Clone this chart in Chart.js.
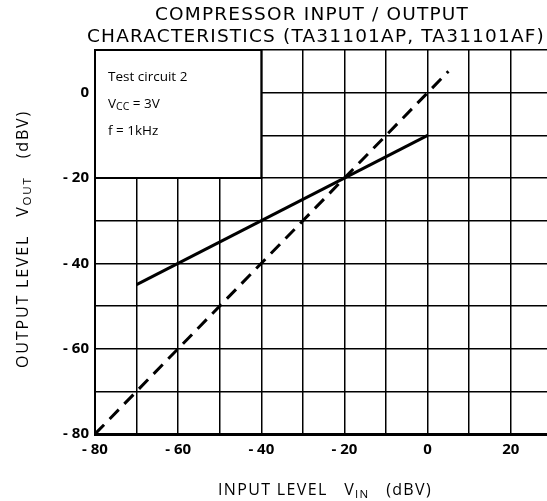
<!DOCTYPE html>
<html lang="en">
<head>
    <meta charset="UTF-8">
    <title>Compressor Input/Output Characteristics</title>
    <script src="https://cdn.jsdelivr.net/npm/chart.js"></script>
    <style>
        html, body {
            margin: 0;
            padding: 0;
            background: #fff;
        }
        .wrap {
            width: 547px;
            height: 501px;
            position: relative;
        }
    </style>
</head>
<body>
    <div class="wrap">
        <canvas id="ioChart"></canvas>
    </div>

    <script>
        // Data
        const compIn = [-70, 0];
        const compOut = [-45, -10];
        const refIn = [-80, 5];
        const refOut = [-80, 5];

        const xGrid = [-80, -70, -60, -50, -40, -30, -20, -10, 0, 10, 20];
        const yGrid = [-80, -70, -60, -50, -40, -30, -20, -10, 0, 10];
        const xTickLabels = { '-80': '- 80', '-60': '- 60', '-40': '- 40', '-20': '- 20', '0': '0', '20': '20' };
        const yTickLabels = { '-80': '- 80', '-60': '- 60', '-40': '- 40', '-20': '- 20', '0': '0' };

        const titleLines = ['COMPRESSOR INPUT / OUTPUT', 'CHARACTERISTICS (TA31101AP, TA31101AF)'];
        const FONT = '"Open Sans", "DejaVu Sans", sans-serif';
        const TFONT = '"DejaVu Sans", sans-serif';

        // width of a run of text with subscripts
        function richWidth(ctx, parts, size, fam) {
            let total = 0, n = 0;
            parts.forEach(p => {
                ctx.font = (p.sub ? size * 0.72 : size) + 'px ' + fam;
                p.w = ctx.measureText(p.t).width;
                total += p.w;
                n += p.t.length;
            });
            return { total, n };
        }

        // draw text with subscripts at a fixed size, letter-spaced out to a width, centred at cx
        function drawRich(ctx, parts, cx, cy, size, width, fam) {
            ctx.letterSpacing = '0px';
            const m = richWidth(ctx, parts, size, fam);
            const sp = Math.max(0, (width - m.total) / m.n);
            ctx.letterSpacing = sp + 'px';
            const m2 = richWidth(ctx, parts, size, fam);
            let x = cx - m2.total / 2;
            ctx.textAlign = 'left';
            ctx.textBaseline = 'middle';
            parts.forEach(p => {
                ctx.font = (p.sub ? size * 0.72 : size) + 'px ' + fam;
                ctx.fillText(p.t, x, p.sub ? cy + size * 0.3 : cy);
                x += p.w;
            });
            ctx.letterSpacing = '0px';
        }

        const noteBox = {
            id: 'noteBox',
            beforeDatasetsDraw(chart) {
                const { ctx, scales: { x, y } } = chart;
                const l = x.getPixelForValue(-80), r = x.getPixelForValue(-40);
                const t = y.getPixelForValue(10), b = y.getPixelForValue(-20);
                ctx.save();
                ctx.fillStyle = '#fff';
                ctx.fillRect(l, t, r - l, b - t);
                ctx.strokeStyle = '#000';
                ctx.lineWidth = 2;
                ctx.strokeRect(l, t, r - l, b - t);
                ctx.fillStyle = '#000';
                ctx.textAlign = 'left';
                ctx.textBaseline = 'middle';
                ctx.font = '13.5px ' + FONT;
                ctx.fillText('Test circuit 2', l + 13, t + 27);
                ctx.fillText('V', l + 13, t + 54);
                let w = ctx.measureText('V').width;
                ctx.font = '10.5px ' + FONT;
                ctx.fillText('CC', l + 13 + w, t + 57);
                let w2 = ctx.measureText('CC').width;
                ctx.font = '13.5px ' + FONT;
                ctx.fillText(' = 3V', l + 13 + w + w2, t + 54);
                ctx.fillText('f = 1kHz', l + 13, t + 81);
                ctx.restore();
            }
        };

        const labels = {
            id: 'labels',
            afterDraw(chart) {
                const { ctx } = chart;
                ctx.save();
                ctx.fillStyle = '#000';
                ctx.textAlign = 'center';
                ctx.textBaseline = 'middle';
                ctx.font = '18.5px ' + TFONT;
                ctx.letterSpacing = '0px';
                const w0 = ctx.measureText(titleLines[1]).width;
                ctx.letterSpacing = Math.max(0, (458 - w0) / titleLines[1].length) + 'px';
                ctx.fillText(titleLines[0], 312, 15);
                ctx.fillText(titleLines[1], 316, 37);
                ctx.letterSpacing = '0px';

                drawRich(ctx, [{ t: 'INPUT LEVEL   V' }, { t: 'IN', sub: true }, { t: '   (dBV)' }], 325, 490, 16, 214, FONT);

                ctx.translate(23, 239);
                ctx.rotate(-Math.PI / 2);
                drawRich(ctx, [{ t: 'OUTPUT LEVEL   V' }, { t: 'OUT', sub: true }, { t: '   (dBV)' }], 0, 0, 16, 258, FONT);
                ctx.restore();
            }
        };

        new Chart(document.getElementById('ioChart'), {
            type: 'scatter',
            data: {
                datasets: [
                    {
                        label: 'Compressor',
                        data: compIn.map((v, i) => ({ x: v, y: compOut[i] })),
                        showLine: true,
                        borderColor: '#000',
                        borderWidth: 3,
                        pointRadius: 0
                    },
                    {
                        label: 'Unity',
                        data: refIn.map((v, i) => ({ x: v, y: refOut[i] })),
                        showLine: true,
                        borderColor: '#000',
                        borderWidth: 3,
                        borderDash: [13, 8],
                        pointRadius: 0
                    }
                ]
            },
            options: {
                responsive: true,
                maintainAspectRatio: false,
                animation: false,
                layout: { padding: { top: 50, right: 0, left: 0, bottom: 0 } },
                plugins: {
                    legend: { display: false },
                    tooltip: { enabled: false }
                },
                scales: {
                    x: {
                        type: 'linear',
                        min: -80,
                        max: 28.7,
                        afterBuildTicks: s => { s.ticks = xGrid.map(v => ({ value: v })); },
                        afterFit: s => { s.height = 67; },
                        grid: { color: '#000', lineWidth: 1.5, drawTicks: false },
                        border: { color: '#000', width: 3 },
                        ticks: {
                            padding: 7,
                            color: '#000',
                            font: { family: FONT, size: 15, weight: 'bold' },
                            autoSkip: false,
                            maxRotation: 0,
                            callback: v => xTickLabels[v] || ''
                        }
                    },
                    y: {
                        type: 'linear',
                        min: -80,
                        max: 10,
                        afterBuildTicks: s => { s.ticks = yGrid.map(v => ({ value: v })); },
                        afterFit: s => { s.width = 95; },
                        grid: { color: '#000', lineWidth: 1.5, drawTicks: false },
                        border: { color: '#000', width: 2 },
                        ticks: {
                            padding: 6,
                            color: '#000',
                            font: { family: FONT, size: 15, weight: 'bold' },
                            autoSkip: false,
                            callback: v => yTickLabels[v] || ''
                        }
                    }
                }
            },
            plugins: [noteBox, labels]
        });
    </script>
</body>
</html>
